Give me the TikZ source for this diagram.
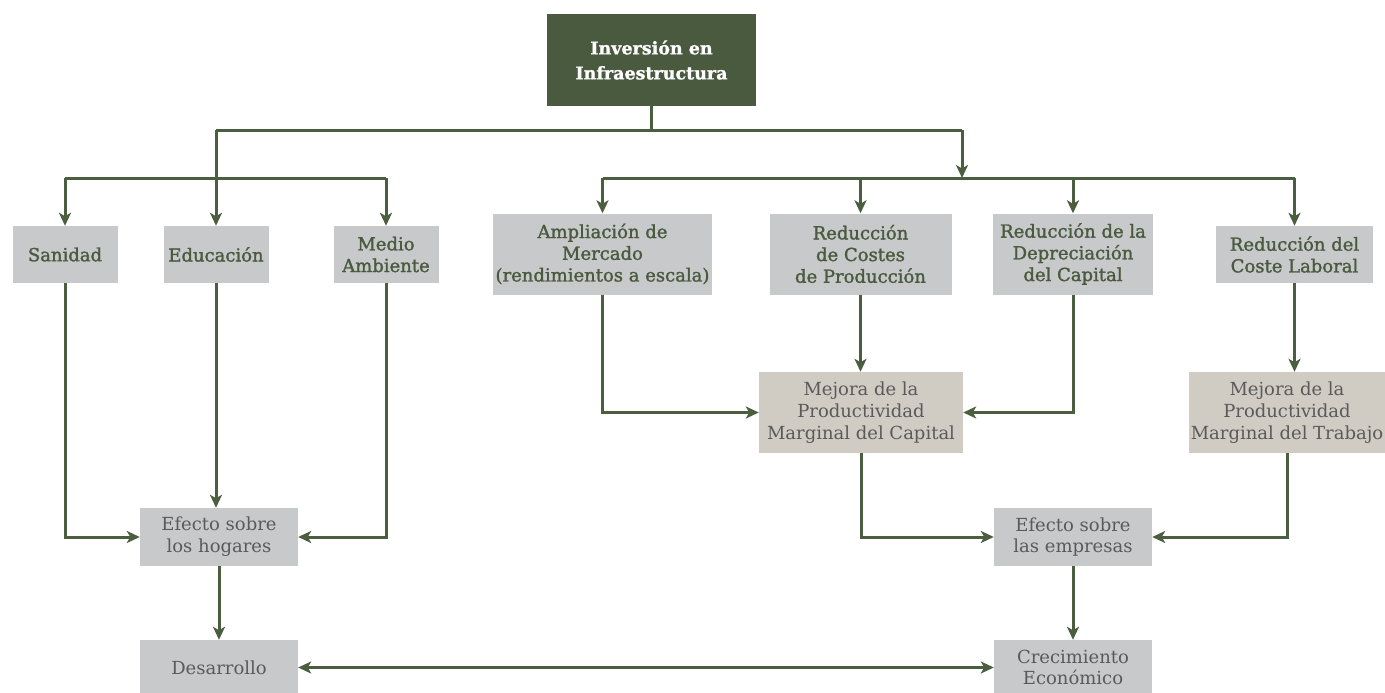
\documentclass[tikz,border=0pt]{standalone}
\usepackage{fontspec}
\setmainfont{DejaVu Serif}
\newfontfamily\semib[FakeBold=1.5]{DejaVu Serif}
\newfontfamily\heavy[FakeBold=1.2]{DejaVu Serif Bold}
\usetikzlibrary{arrows.meta}
\definecolor{dkgreen}{HTML}{4A5A3F}
\definecolor{linegreen}{HTML}{4B5E40}
\definecolor{boxgray}{HTML}{C8C9CB}
\definecolor{boxbeige}{HTML}{D0CCC4}
\definecolor{txtgray}{HTML}{5A5A5A}
\begin{document}
\begin{tikzpicture}[x=1pt,y=-1pt,
  box/.style={fill=boxgray, inner sep=0pt, align=center},
  upbox/.style={box, text=dkgreen, font=\semib\fontsize{18}{21.7}\selectfont},
  lowbox/.style={box, text=txtgray, font=\fontsize{18}{21.7}\selectfont},
  beige/.style={fill=boxbeige},
  titlebox/.style={fill=dkgreen, text=white, inner sep=0pt, align=center, font=\heavy\fontsize{17.5}{25}\selectfont},
  ln/.style={draw=linegreen, line width=3pt},
  arr/.style={ln, -{Stealth[length=13pt,width=12pt,inset=3.5pt]}},
  darr/.style={ln, {Stealth[length=13pt,width=12pt,inset=3.5pt]}-{Stealth[length=13pt,width=12pt,inset=3.5pt]}}
]
\useasboundingbox (0,0) rectangle (1385,693);

\node[titlebox, minimum width=209pt, minimum height=92pt] (top) at (651.5,60) {Inversión en\\Infraestructura};

\node[upbox, minimum width=105pt, minimum height=57pt] (san) at (65,254.5) {Sanidad};
\node[upbox, minimum width=105pt, minimum height=57pt] (edu) at (216,254.5) {Educación};
\node[upbox, minimum width=105pt, minimum height=57pt] (med) at (386,254.5) {Medio\\Ambiente};

\node[upbox, minimum width=219pt, minimum height=81pt] (amp) at (602.5,254) {Ampliación de\\Mercado\\(rendimientos a escala)};
\node[upbox, minimum width=182pt, minimum height=81pt] (cos) at (860.5,254) {Reducción\\de Costes\\de Producción};
\node[upbox, minimum width=160pt, minimum height=81pt] (dep) at (1073,254) {Reducción de la\\Depreciación\\del Capital};
\node[upbox, minimum width=157pt, minimum height=57pt] (lab) at (1294.5,254.5) {Reducción del\\Coste Laboral};

\node[lowbox, beige, minimum width=204pt, minimum height=81pt] (mcap) at (861,412.5) {Mejora de la\\Productividad\\Marginal del Capital};
\node[lowbox, beige, minimum width=196pt, minimum height=81pt] (mtra) at (1287,412.5) {Mejora de la\\Productividad\\Marginal del Trabajo};

\node[lowbox, minimum width=158pt, minimum height=58pt] (hog) at (219,537) {Efecto sobre\\los hogares};
\node[lowbox, minimum width=158pt, minimum height=58pt] (emp) at (1073,537) {Efecto sobre\\las empresas};

\node[lowbox, minimum width=158pt, minimum height=55pt] (des) at (219,667.5) {Desarrollo};
\node[lowbox, minimum width=158pt, minimum height=55pt] (cre) at (1073,667.5) {Crecimiento\\Económico};

% top distribution
\coordinate (j0) at (651.5,130);
\coordinate (jl) at (216,130);
\coordinate (jr) at (962,130);
\coordinate (hl) at (65,178);
\coordinate (hr) at (962,178);

\draw[ln] (top.south) -- (j0);
\draw[ln] (jl) -- (jr);
\draw[arr] (jl) -- (edu.north);
\draw[arr] (jr) -- (hr);

\draw[ln] (san.north |- hl) -- (med.north |- hl);
\draw[arr] (san.north |- hl) -- (san.north);
\draw[arr] (med.north |- hl) -- (med.north);

\draw[ln] (amp.north |- hr) -- (lab.north |- hr);
\draw[arr] (amp.north |- hr) -- (amp.north);
\draw[arr] (cos.north |- hr) -- (cos.north);
\draw[arr] (dep.north |- hr) -- (dep.north);
\draw[arr] (lab.north |- hr) -- (lab.north);

% to mejora capital / trabajo
\draw[arr] (amp.south) |- (mcap.west);
\draw[arr] (cos.south) -- (cos.south |- mcap.north);
\draw[arr] (dep.south) |- (mcap.east);
\draw[arr] (lab.south) -- (lab.south |- mtra.north);

% to efecto empresas
\draw[arr] (mcap.south) |- (emp.west);
\draw[arr] (mtra.south) |- (emp.east);

% to efecto hogares
\draw[arr] (san.south) |- (hog.west);
\draw[arr] (edu.south) -- (edu.south |- hog.north);
\draw[arr] (med.south) |- (hog.east);

% bottom
\draw[arr] (hog.south) -- (des.north);
\draw[arr] (emp.south) -- (cre.north);
\draw[darr] (des.east) -- (cre.west);
\end{tikzpicture}
\end{document}
